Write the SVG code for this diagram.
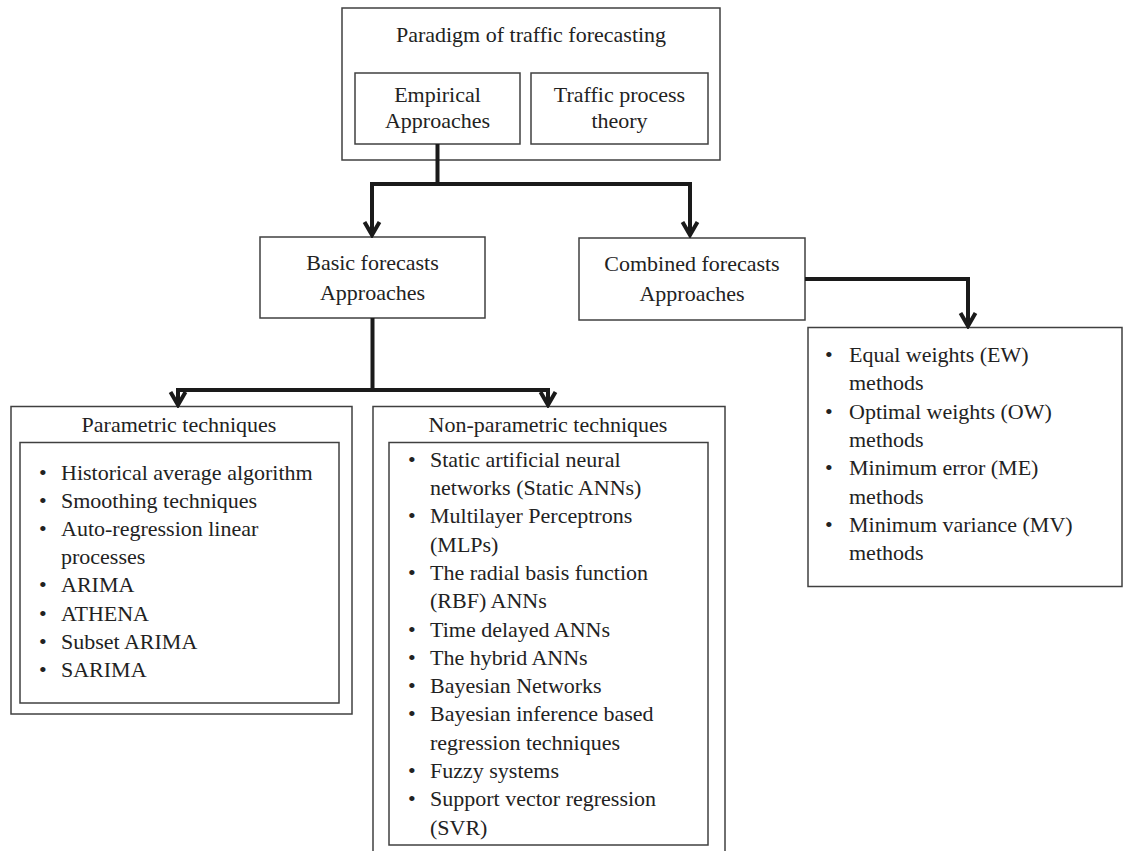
<svg xmlns="http://www.w3.org/2000/svg" width="1123" height="851" viewBox="0 0 1123 851">
<style>
.box{fill:#fff;stroke:#404040;stroke-width:1.5}
.t{font-family:"Liberation Serif","Times New Roman",serif;font-size:22px;fill:#222}
.c{text-anchor:middle}
.conn{fill:none;stroke:#1a1a1a;stroke-width:4;stroke-linejoin:miter}
</style>
<defs>
<marker id="arr" viewBox="0 0 20 20" refX="17" refY="10" markerWidth="20" markerHeight="20" markerUnits="userSpaceOnUse" orient="auto">
<path d="M 4 2.5 L 17 10 L 4 17.5" fill="none" stroke="#1a1a1a" stroke-width="4"/>
</marker>
</defs>
<rect width="1123" height="851" fill="#fff"/>

<g id="paradigm">
<rect class="box" x="342" y="8" width="378" height="152"/>
<text class="t c" x="531" y="42">Paradigm of traffic forecasting</text>
</g>
<g id="empirical">
<rect class="box" x="355" y="73" width="165" height="71"/>
<text class="t c" x="437.5" y="102">Empirical</text>
<text class="t c" x="437.5" y="128">Approaches</text>
</g>
<g id="traffic-process">
<rect class="box" x="531" y="73" width="177" height="71"/>
<text class="t c" x="619.5" y="102">Traffic process</text>
<text class="t c" x="619.5" y="128">theory</text>
</g>

<g id="basic">
<rect class="box" x="260" y="237" width="225" height="81"/>
<text class="t c" x="372.5" y="270">Basic forecasts</text>
<text class="t c" x="372.5" y="300">Approaches</text>
</g>
<g id="combined">
<rect class="box" x="579" y="238" width="226" height="82"/>
<text class="t c" x="692" y="271">Combined forecasts</text>
<text class="t c" x="692" y="301">Approaches</text>
</g>

<g id="combined-methods">
<rect class="box" x="808" y="327.5" width="314" height="259"/>
<g class="t">
<text x="825" y="362">•</text><text x="849" y="362">Equal weights (EW)</text>
<text x="849" y="390.3">methods</text>
<text x="825" y="418.6">•</text><text x="849" y="418.6">Optimal weights (OW)</text>
<text x="849" y="446.9">methods</text>
<text x="825" y="475.2">•</text><text x="849" y="475.2">Minimum error (ME)</text>
<text x="849" y="503.5">methods</text>
<text x="825" y="531.8">•</text><text x="849" y="531.8">Minimum variance (MV)</text>
<text x="849" y="560.1">methods</text>
</g>
</g>

<g id="parametric">
<rect class="box" x="11" y="406.5" width="341" height="307.5"/>
<text class="t c" x="179" y="432">Parametric techniques</text>
<rect class="box" x="20" y="442.5" width="319" height="260.5"/>
<g class="t">
<text x="39" y="480">•</text><text x="61" y="480">Historical average algorithm</text>
<text x="39" y="508.1">•</text><text x="61" y="508.1">Smoothing techniques</text>
<text x="39" y="536.2">•</text><text x="61" y="536.2">Auto-regression linear</text>
<text x="61" y="564.3">processes</text>
<text x="39" y="592.4">•</text><text x="61" y="592.4">ARIMA</text>
<text x="39" y="620.5">•</text><text x="61" y="620.5">ATHENA</text>
<text x="39" y="648.6">•</text><text x="61" y="648.6">Subset ARIMA</text>
<text x="39" y="676.7">•</text><text x="61" y="676.7">SARIMA</text>
</g>
</g>

<g id="non-parametric">
<rect class="box" x="373" y="406.5" width="352" height="460"/>
<text class="t c" x="548" y="432">Non-parametric techniques</text>
<rect class="box" x="389" y="442.5" width="319" height="402.5"/>
<g class="t">
<text x="408" y="466.7">•</text><text x="430" y="466.7">Static artificial neural</text>
<text x="430" y="495">networks (Static ANNs)</text>
<text x="408" y="523.3">•</text><text x="430" y="523.3">Multilayer Perceptrons</text>
<text x="430" y="551.6">(MLPs)</text>
<text x="408" y="579.9">•</text><text x="430" y="579.9">The radial basis function</text>
<text x="430" y="608.2">(RBF) ANNs</text>
<text x="408" y="636.5">•</text><text x="430" y="636.5">Time delayed ANNs</text>
<text x="408" y="664.8">•</text><text x="430" y="664.8">The hybrid ANNs</text>
<text x="408" y="693.1">•</text><text x="430" y="693.1">Bayesian Networks</text>
<text x="408" y="721.4">•</text><text x="430" y="721.4">Bayesian inference based</text>
<text x="430" y="749.7">regression techniques</text>
<text x="408" y="778">•</text><text x="430" y="778">Fuzzy systems</text>
<text x="408" y="806.3">•</text><text x="430" y="806.3">Support vector regression</text>
<text x="430" y="834.6">(SVR)</text>
</g>
</g>

<g id="connectors">
<path class="conn" d="M 437.5 144 V 184 H 372 V 235" marker-end="url(#arr)"/>
<path class="conn" d="M 437.5 184 H 690 V 235" marker-end="url(#arr)"/>
<path class="conn" d="M 372.5 318 V 390 H 178 V 405" marker-end="url(#arr)"/>
<path class="conn" d="M 372.5 390 H 548 V 405" marker-end="url(#arr)"/>
<path class="conn" d="M 805 279 H 968 V 326" marker-end="url(#arr)"/>
</g>
</svg>
